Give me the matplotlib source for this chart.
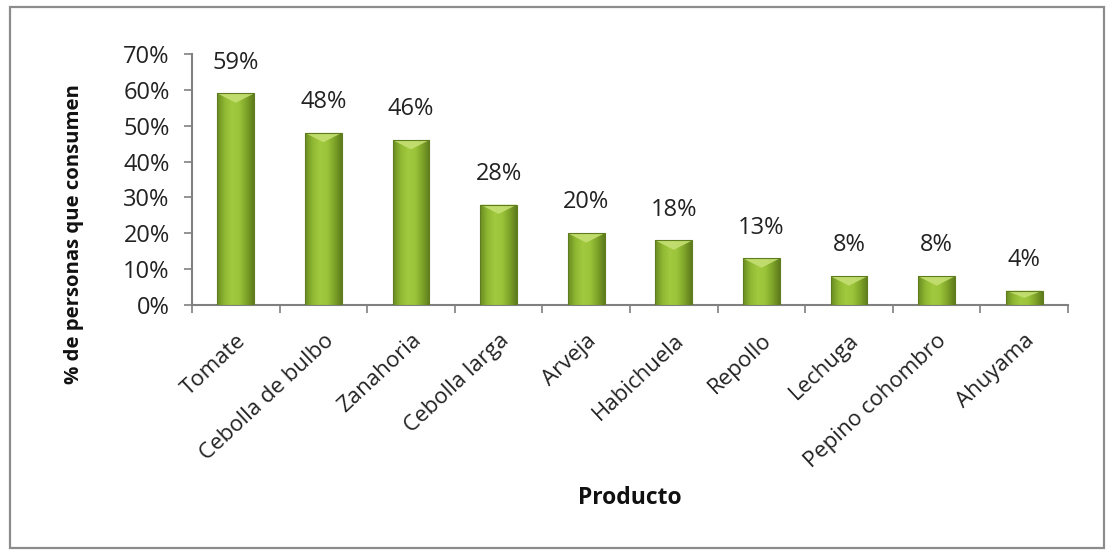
import matplotlib
matplotlib.use("Agg")
import matplotlib.pyplot as plt
import numpy as np
from matplotlib.patches import Rectangle, Polygon
from matplotlib.colors import LinearSegmentedColormap

categories = ["Tomate", "Cebolla de bulbo", "Zanahoria", "Cebolla larga", "Arveja",
              "Habichuela", "Repollo", "Lechuga", "Pepino cohombro", "Ahuyama"]
values = [59, 48, 46, 28, 20, 18, 13, 8, 8, 4]
labels = ["59%", "48%", "46%", "28%", "20%", "18%", "13%", "8%", "8%", "4%"]
yticks = [0, 10, 20, 30, 40, 50, 60, 70]

plt.rcParams['font.family'] = ['Open Sans', 'DejaVu Sans']

fig = plt.figure(figsize=(11.13, 5.55), dpi=100)
ax = fig.add_axes([192/1113, 1-305/555, (1068-192)/1113, (305-54)/555])

# outer border
fig.patches.append(Rectangle((10/1113, 7/555), 1094/1113, 541/555, transform=fig.transFigure,
                             fill=False, edgecolor="#8c8c8c", linewidth=1.6))

x = np.arange(len(categories))
bw = 0.42
cmap = LinearSegmentedColormap.from_list("g", ["#6b8c22", "#8fb832", "#a2c93f", "#9cc43a", "#7fa42a", "#5e7c1c"])
grad = np.linspace(0, 1, 64).reshape(1, -1)
bars = ax.bar(x, values, width=bw, color="#9cc43a", edgecolor="none", zorder=2)
for b in bars:
    x0, w, h = b.get_x(), b.get_width(), b.get_height()
    im = ax.imshow(grad, cmap=cmap, extent=[x0, x0 + w, 0, h], aspect="auto", zorder=3)
    im.set_clip_path(b)
    tri_h = min(2.6, h * 0.5)
    ax.add_patch(Polygon([[x0, h], [x0 + w, h], [x0 + w / 2, h - tri_h]], closed=True,
                         facecolor="#c4df72", edgecolor="none", zorder=4, alpha=0.9))
    ax.add_patch(Rectangle((x0, 0), w, h, fill=False, edgecolor="#5f7d1e", linewidth=0.8, zorder=5))

for xi, v, lab in zip(x, values, labels):
    ax.text(xi, v + 8.6, lab, ha="center", va="center", fontsize=17, color="#222222")

ax.set_xlim(-0.5, len(categories) - 0.5)
ax.set_ylim(0, 70)
ax.set_yticks(yticks)
ax.set_yticklabels([f"{t}%" for t in yticks], fontsize=17, color="#222222")
ax.set_xticks(x)
ax.set_xticklabels(categories, rotation=43, ha="right", rotation_mode="anchor", fontsize=16, color="#222222")
ax.set_xticks(np.arange(-0.5, len(categories), 1), minor=True)
ax.tick_params(axis="x", which="major", length=0, pad=18)
ax.tick_params(axis="x", which="minor", length=6, color="#808080", width=1.2)
ax.tick_params(axis="y", length=6, color="#808080", width=1.2, pad=10)
for s in ["top", "right"]:
    ax.spines[s].set_visible(False)
for s in ["left", "bottom"]:
    ax.spines[s].set_color("#808080")
    ax.spines[s].set_linewidth(1.5)

fig.text(74/1113, 1-234/555, "% de personas que consumen", rotation=90, ha="center", va="center",
         fontsize=14.7, fontweight="bold", color="#111111")
fig.text(630/1113, 1-498/555, "Producto", ha="center", va="center",
         fontsize=16.5, fontweight="bold", color="#111111")

fig.savefig("out.png", dpi=100)
